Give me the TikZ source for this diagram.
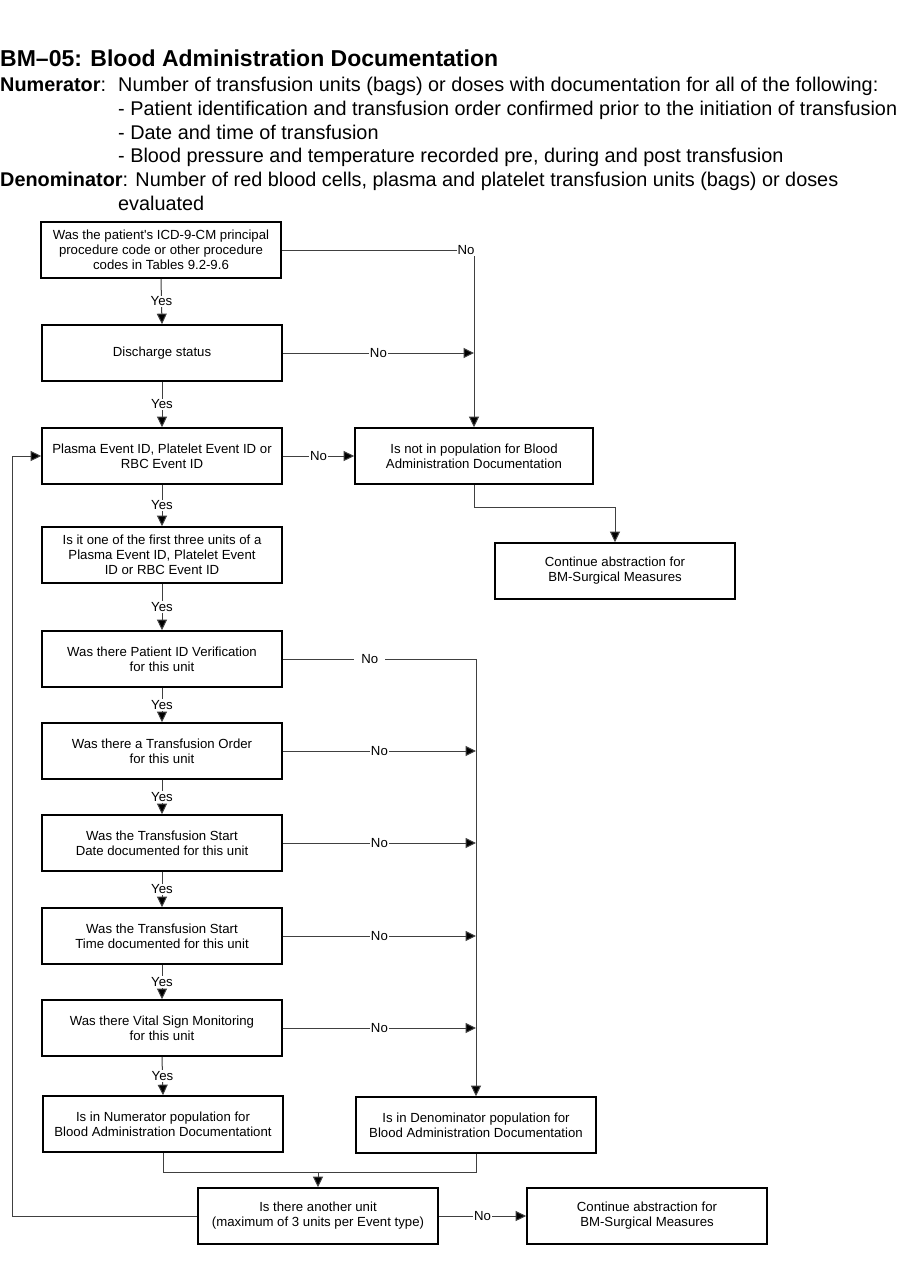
\documentclass[tikz,border=0pt]{standalone}
\usepackage{fontspec}
\setmainfont{Liberation Sans}[Ligatures=TeXOff]
\usetikzlibrary{arrows.meta,calc}
\begin{document}
\begin{tikzpicture}[x=1pt,y=-1pt,
  box/.style={draw=black, line width=1.7pt, minimum width=240pt, minimum height=56pt, align=center, font=\fontsize{13.2}{15}\selectfont, inner sep=0pt},
  conn/.style={draw=black!75, line width=1pt},
  arr/.style={conn, -{Triangle[length=10.5pt,width=10pt,fill=black]}},
  lab/.style={font=\fontsize{13.2}{15}\selectfont, fill=white, inner sep=1pt},
  hdr/.style={font=\fontsize{19.85}{24}\selectfont, anchor=base west, inner sep=0pt},
  ttl/.style={font=\fontsize{23}{26}\selectfont\bfseries, anchor=base west, inner sep=0pt}
]
\useasboundingbox[fill=white] (0,0) rectangle (900,1286);
% header
\node[ttl] (title) at (0,66) {BM–05: Blood Administration Documentation};
\node[hdr] (numl) at (0,91) {\textbf{Numerator}:};
\node[hdr] (numt) at (118,91) {Number of transfusion units (bags) or doses with documentation for all of the following:};
\node[hdr] (n1) at (118,115) {- Patient identification and transfusion order confirmed prior to the initiation of transfusion};
\node[hdr] (n2) at (118,139) {- Date and time of transfusion};
\node[hdr] (n3) at (118,162.7) {- Blood pressure and temperature recorded pre, during and post transfusion};
\node[hdr] (denl) at (0,186.7) {\textbf{Denominator}: Number of red blood cells, plasma and platelet transfusion units (bags) or doses};
\node[hdr] (den2) at (118,210) {evaluated};
% boxes
\node[box] (b1) at (161,250) {Was the patient's ICD-9-CM principal\\procedure code or other procedure\\codes in Tables 9.2-9.6};
\node[box] (b2) at (162,353) {Discharge status};
\node[box] (b3) at (162,456) {Plasma Event ID, Platelet Event ID or\\RBC Event ID};
\node[box, minimum width=238pt] (np) at (474,456) {Is not in population for Blood\\Administration Documentation};
\node[box] (c1) at (615,571) {Continue abstraction for\\BM-Surgical Measures};
\node[box] (b4) at (162,555) {Is it one of the first three units of a\\Plasma Event ID, Platelet Event\\ID or RBC Event ID};
\node[box] (b5) at (162,659) {Was there Patient ID Verification\\for this unit};
\node[box] (b6) at (162,751) {Was there a Transfusion Order\\for this unit};
\node[box] (b7) at (162,843) {Was the Transfusion Start\\Date documented for this unit};
\node[box] (b8) at (162,936) {Was the Transfusion Start\\Time documented for this unit};
\node[box] (b9) at (162,1028) {Was there Vital Sign Monitoring\\for this unit};
\node[box] (num) at (163,1124) {Is in Numerator population for\\Blood Administration Documentationt};
\node[box] (den) at (476,1125) {Is in Denominator population for\\Blood Administration Documentation};
\node[box] (an) at (318,1216) {Is there another unit\\(maximum of 3 units per Event type)};
\node[box] (c2) at (647,1216) {Continue abstraction for\\BM-Surgical Measures};
% coordinates
\coordinate (k1) at (np.north |- b1.east);
\coordinate (k2) at (np.north |- b2.east);
\coordinate (kn) at ($(np.south)+(0,23)$);
\coordinate (v5) at (den.north |- b5.east);
\coordinate (v6) at (den.north |- b6.east);
\coordinate (v7) at (den.north |- b7.east);
\coordinate (v8) at (den.north |- b8.east);
\coordinate (v9) at (den.north |- b9.east);
\coordinate (jn) at ($(num.south)+(0,20)$);
\coordinate (jm) at (an.north |- jn);
\coordinate (lp) at (12,1216);
% yes connectors
\foreach \a/\b in {b1/b2,b2/b3,b3/b4,b4/b5,b5/b6,b6/b7,b7/b8,b8/b9,b9/num}
  \draw[arr] (\a.south) -- node[lab]{Yes} (\b.north);
% no connectors
\draw[arr] (b1.east) -- (k1) -- (np.north);
\node[lab] at ($(k1)+(-8,0)$) {No};
\draw[arr] (b2.east) -- node[lab]{No} (k2);
\draw[arr] (b3.east) -- node[lab]{No} (np.west);
\draw[arr] (np.south) -- (kn) -| (c1.north);
\draw[arr] (b5.east) -- (v5) -- (den.north);
\node[lab, inner xsep=7pt] at ($(b5.east)!0.45!(v5)$) {No};
\draw[arr] (b6.east) -- node[lab]{No} (v6);
\draw[arr] (b7.east) -- node[lab]{No} (v7);
\draw[arr] (b8.east) -- node[lab]{No} (v8);
\draw[arr] (b9.east) -- node[lab]{No} (v9);
\draw[conn] (num.south) -- (jn) -| (den.south);
\draw[arr] (jm) -- (an.north);
\draw[arr] (an.west) -- (lp) |- (b3.west);
\draw[arr] (an.east) -- node[lab]{No} (c2.west);
\end{tikzpicture}
\end{document}
